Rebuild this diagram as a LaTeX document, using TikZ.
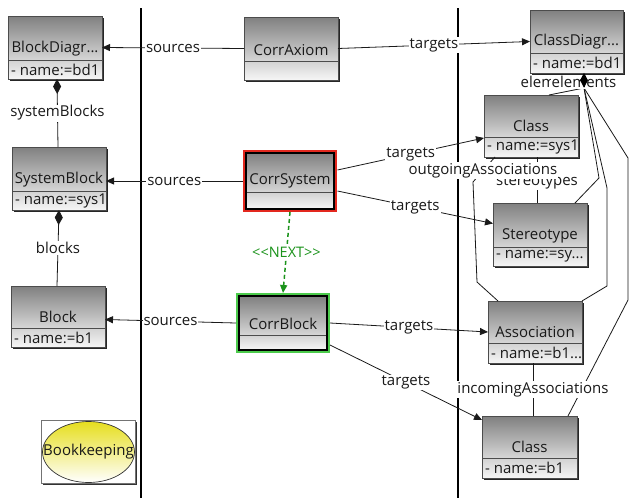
\documentclass[tikz,border=0pt]{standalone}
\usepackage{fontspec}
\setmainfont{Open Sans}
\usetikzlibrary{arrows.meta,shapes.geometric}

\definecolor{hdtop}{HTML}{808080}
\definecolor{hdbot}{HTML}{D6D6D6}
\definecolor{attop}{HTML}{D2D2D2}
\definecolor{atbot}{HTML}{F6F6F6}
\definecolor{linec}{HTML}{1A1A1A}
\definecolor{corrred}{HTML}{E3281E}
\definecolor{corrgreen}{HTML}{4CCB4C}
\definecolor{nextgreen}{HTML}{1B931B}
\definecolor{bkyellow}{HTML}{E6DE1E}

\newcommand\dfont{\fontsize{15}{17}\selectfont}
\newcommand\nextfont{\fontsize{14.5}{16}\selectfont}

\tikzset{
  boxframe/.style={draw=black!70, line width=0.7pt, inner sep=0pt, outer sep=0pt},
  titletext/.style={font=\dfont, text=black!90, inner sep=0pt},
  attrtext/.style={font=\dfont, text=black!90, inner sep=0pt},
  conn/.style={draw=linec, line width=0.8pt},
  arr/.style={conn, -{Triangle[length=8pt,width=7pt]}},
  comp/.style={conn, {Diamond[length=15pt,width=8pt]}-},
  lbl/.style={fill=white, inner sep=1pt, font=\dfont, text=black!90},
  partline/.style={line width=2pt, black},
}

% UML class box: name, x, y, width, height, header height, title, attribute
\newcommand\umlbox[8]{%
  \fill[black!85] (#2+1.6,#3+1.6) rectangle ++(#4,#5);
  \shade[top color=hdtop,bottom color=hdbot] (#2,#3) rectangle ++(#4,#6);
  \shade[top color=attop,bottom color=atbot] (#2,#3+#6) rectangle ++(#4,#5-#6);
  \node[boxframe,minimum width=#4pt,minimum height=#5pt,anchor=north west] (#1) at (#2,#3) {};
  \draw[boxframe] (#2,#3+#6) -- ++(#4,0);
  \node[titletext] at (#2+#4/2,#3+#6-11) {#7};
  \node[attrtext,anchor=west] at (#2+3,#3+#6/2+#5/2) {#8};
}

\begin{document}
\begin{tikzpicture}[x=1pt,y=-1pt]
\useasboundingbox[fill=white] (0,0) rectangle (629,498);

% swimlane separators
\draw[partline] (141,8) -- (141,498);
\draw[partline] (458,8) -- (458,498);

% left column
\umlbox{bd}{8}{16}{94}{63}{44}{BlockDiagr...}{- name:=bd1}
\umlbox{sb}{12}{147}{94}{63}{44}{SystemBlock}{- name:=sys1}
\umlbox{blk}{11}{286}{94}{61}{42}{Block}{- name:=b1}

% correspondence column
\umlbox{ca}{244}{17}{94}{63}{44}{CorrAxiom}{}
\umlbox{cs}{246}{153}{88}{56}{39}{CorrSystem}{}
\draw[black, line width=1.6pt] (cs.north west) rectangle (cs.south east);
\draw[corrred, line width=2.4pt] ([shift={(-2.2pt,2.2pt)}]cs.north west) rectangle ([shift={(2.2pt,-2.2pt)}]cs.south east);
\umlbox{cb}{239}{296}{88}{54}{39}{CorrBlock}{}
\draw[black, line width=1.6pt] (cb.north west) rectangle (cb.south east);
\draw[corrgreen, line width=2pt] ([shift={(-2pt,2pt)}]cb.north west) rectangle ([shift={(2pt,-2pt)}]cb.south east);

% right column
\umlbox{cd}{530}{10}{93}{63}{43}{ClassDiagr...}{- name:=bd1}
\umlbox{cls1}{484}{95}{94}{62}{42}{Class}{- name:=sys1}
\umlbox{st}{493}{203}{94}{63}{44}{Stereotype}{- name:=sy...}
\umlbox{as}{488}{301}{94}{62}{42}{Association}{- name:=b1...}
\umlbox{clb1}{482}{416}{95}{62}{42}{Class}{- name:=b1}

% bookkeeping marker
\fill[black!80] (42.5,421.5) rectangle (136.5,484.5);
\node[draw=black!55, fill=white, line width=1pt, minimum width=94pt, minimum height=63pt, inner sep=0pt, anchor=north west] (bkframe) at (41,420) {};
\node[ellipse, draw=black!80, line width=0.7pt, top color=bkyellow, bottom color=white, minimum width=92pt, minimum height=61pt, inner sep=0pt] (bk) at (bkframe.center) {};
\node[font=\dfont, text=black!90, inner sep=0pt] (bktext) at (bk.center) {Bookkeeping};

% compositions, left column
\draw[comp] ([xshift=2pt]bd.south) -- ([xshift=-1pt]sb.north) node[midway,lbl] {systemBlocks};
\draw[comp] (sb.south) -- ([xshift=-1pt]blk.north) node[midway,lbl] {blocks};

% sources links
\draw[arr] (ca.west) -- (bd.east) node[midway,lbl] {sources};
\draw[arr] ([xshift=-3.5pt]cs.west) -- ([yshift=-2.5pt]sb.east) node[midway,lbl] {sources};
\draw[arr] ([xshift=-3pt]cb.west) -- ([yshift=-3pt]blk.east) node[midway,lbl] {sources};

% elements compositions of the class diagram
\coordinate (cdt) at ([xshift=7.5pt,yshift=-15pt]cd.south);
\draw[conn] (cdt) -- ([xshift=18pt]cls1.north);
\draw[conn] (cdt) -- (599,178) -- ([xshift=-12pt]st.north east);
\draw[conn] (cdt) -- (607,188) -- (607,286) -- (as.north east);
\draw[conn] (cdt) -- (628,158) -- (628,300) -- ([xshift=-9pt]clb1.north east);

% references between class diagram elements
\draw[conn] ([xshift=6pt]cls1.south) -- ([xshift=-3pt]st.north) node[pos=0.55,lbl] {stereotypes};
\draw[conn] ([xshift=-36pt]cls1.south) -- (473,182) node[pos=0.55,lbl] {outgoingAssociations} -- (477,282) -- ([xshift=10pt]as.north west);
\draw[conn] ([xshift=-2pt]as.south) -- ([xshift=3.5pt]clb1.north) node[midway,lbl] {incomingAssociations};

% targets links
\draw[arr] (ca.east) -- (cd.west) node[midway,lbl] {targets};
\draw[arr] ([shift={(3.5pt,11pt)}]cs.east) -- ([yshift=-12pt]cls1.west) node[midway,lbl] {targets};
\draw[arr] ([shift={(3.5pt,-10pt)}]cs.east) -- ([yshift=11pt]st.west) node[midway,lbl] {targets};
\draw[arr] ([xshift=3pt]cb.east) -- (as.west) node[midway,lbl] {targets};
\draw[arr] ([shift={(3pt,-22pt)}]cb.east) -- ([yshift=27pt]clb1.west) node[midway,lbl] {targets};

% role labels at the class diagram
\node[lbl] (elA) at (553,82) {elements};
\node[lbl] (elB) at (584,82) {elements};
\node[diamond, fill=black, inner sep=0pt, minimum width=8pt, minimum height=15pt, anchor=south] (cdd) at (cdt) {};

% rule ordering
\draw[nextgreen, line width=1.5pt, dash pattern=on 4pt off 3pt, -{Triangle[length=8pt,width=7pt]}] ([yshift=-3pt]cs.south) -- ([yshift=3pt]cb.north) node[midway, fill=white, inner sep=1pt, text=nextgreen, font=\nextfont] {<{}<NEXT>{}>};
\end{tikzpicture}
\end{document}
